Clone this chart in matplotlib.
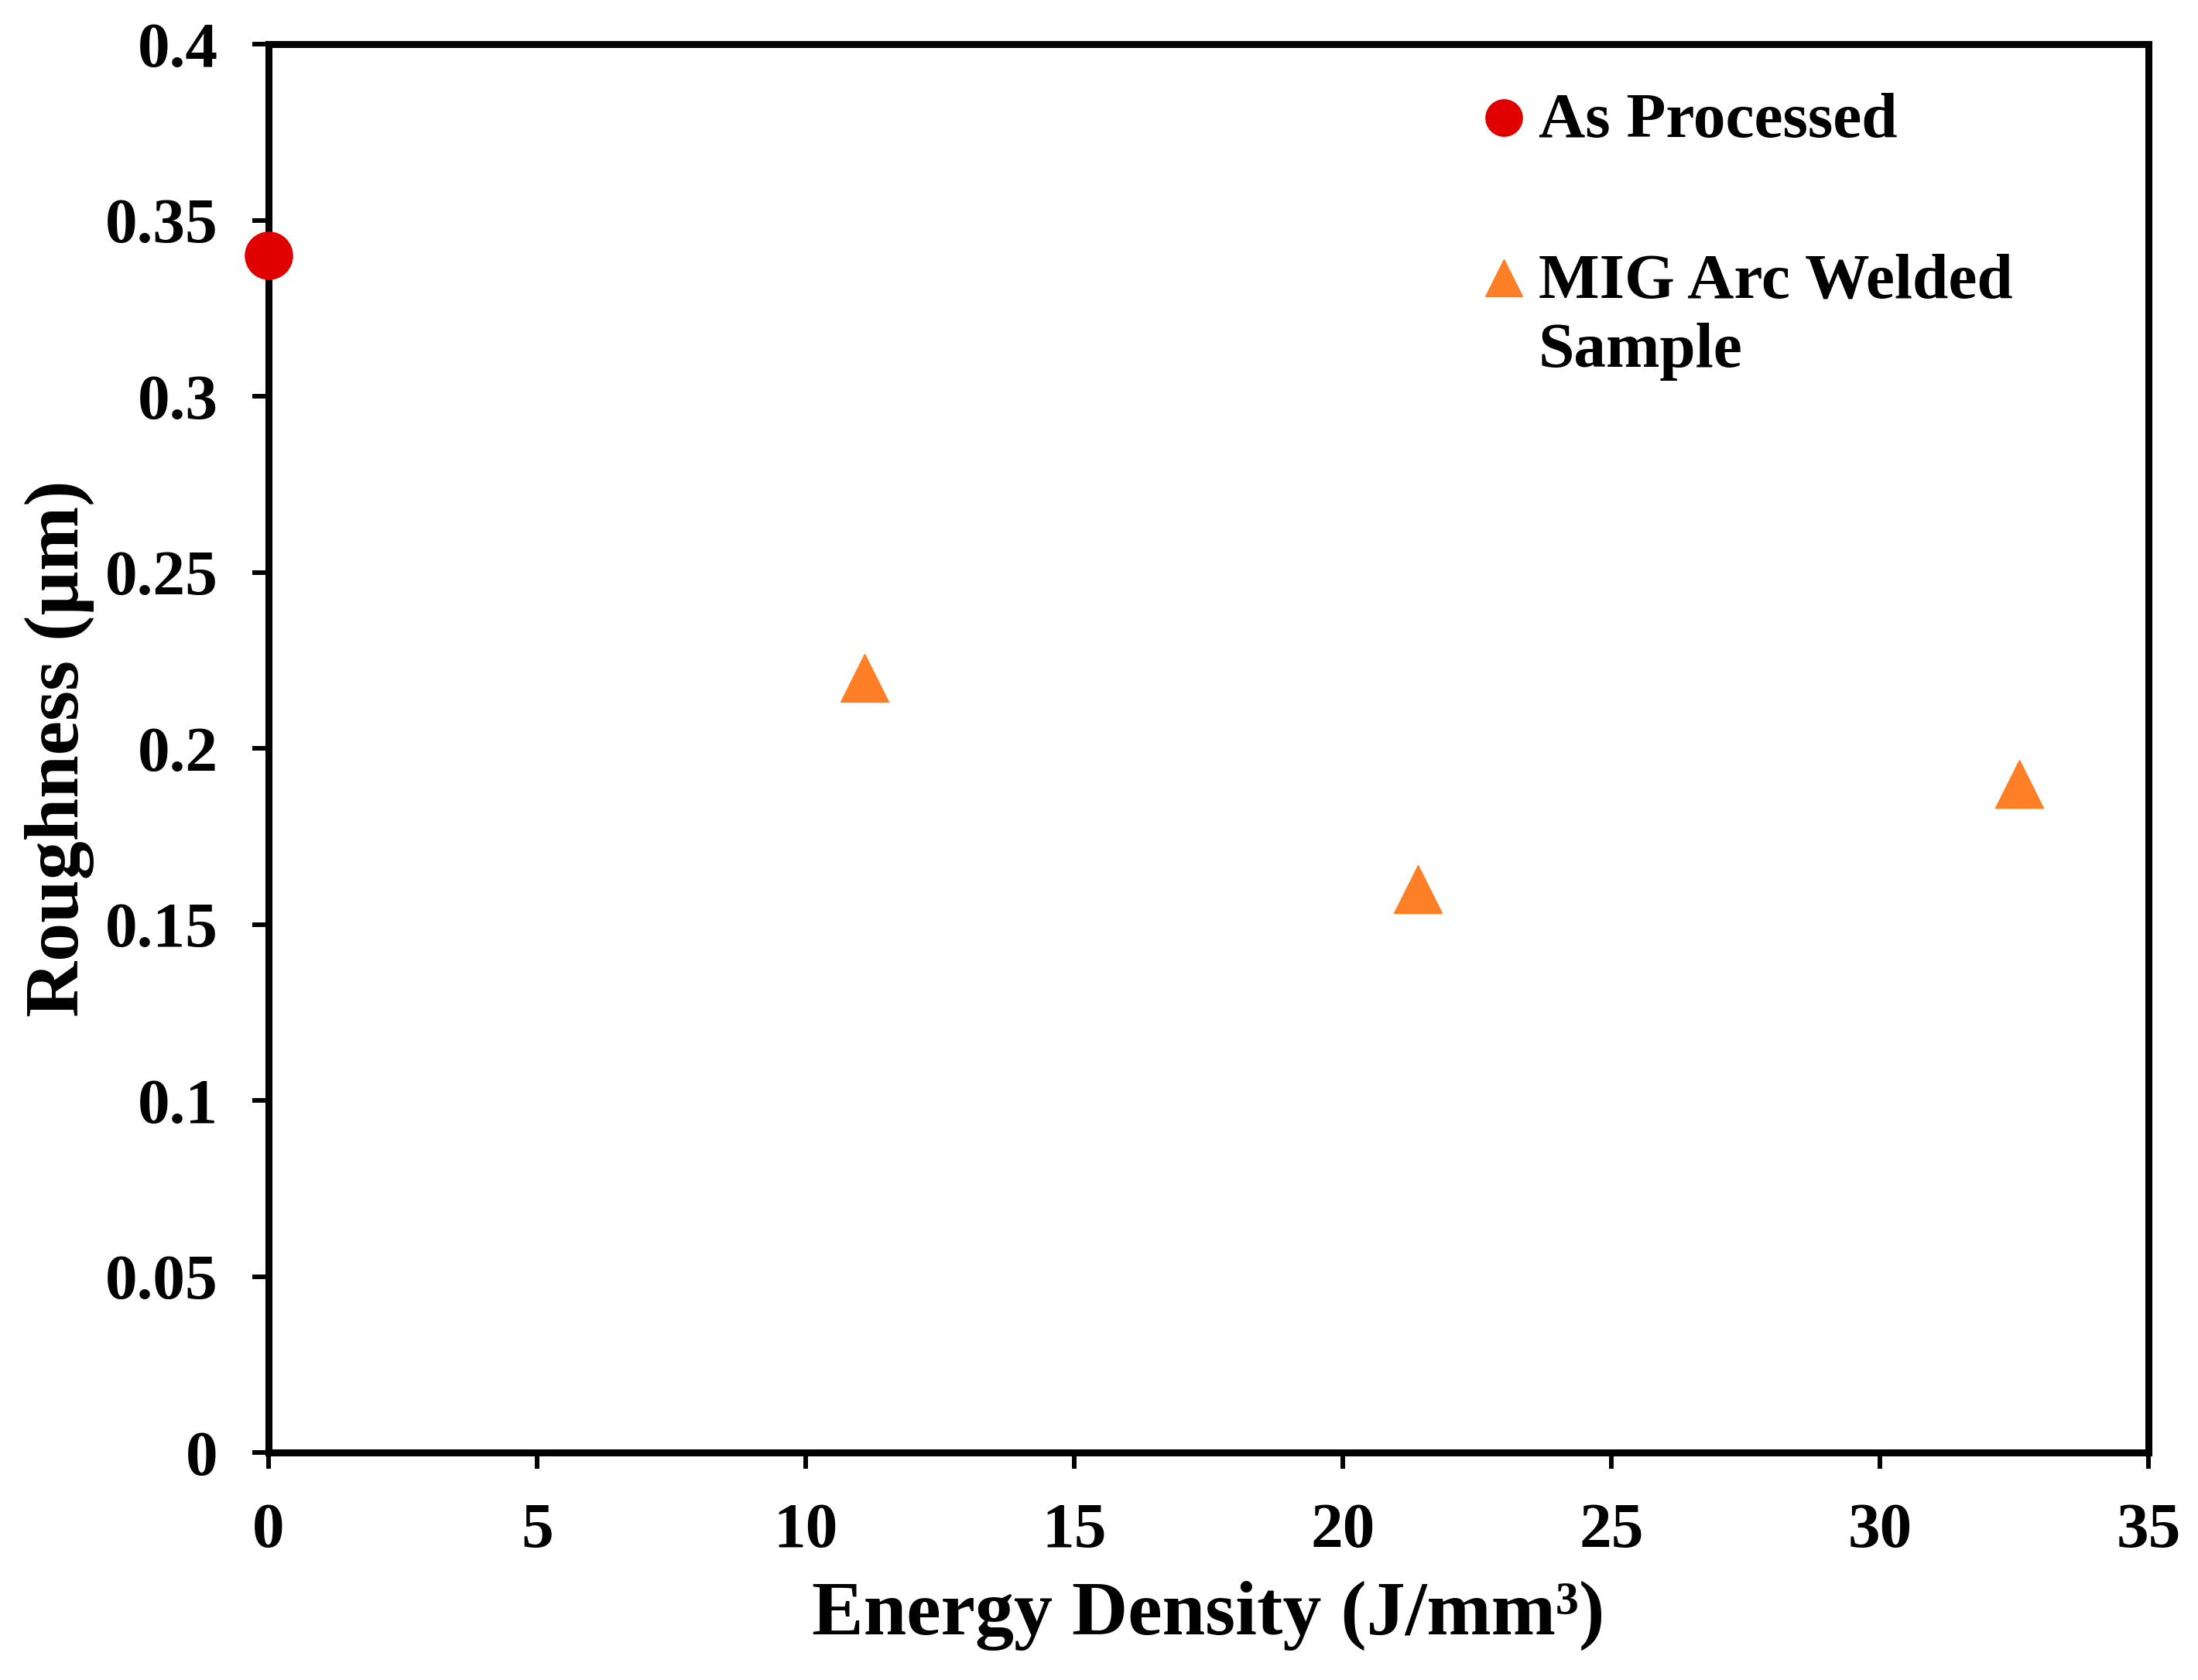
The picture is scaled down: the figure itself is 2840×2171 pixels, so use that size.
import matplotlib
matplotlib.use('Agg')
import matplotlib.pyplot as plt

# data
as_processed_x = [0.0]
as_processed_y = [0.34]
mig_x = [11.1, 21.4, 32.6]
mig_y = [0.22, 0.16, 0.19]

x_ticks = [0, 5, 10, 15, 20, 25, 30, 35]
y_ticks = [0, 0.05, 0.1, 0.15, 0.2, 0.25, 0.3, 0.35, 0.4]
y_tick_labels = ['0', '0.05', '0.1', '0.15', '0.2', '0.25', '0.3', '0.35', '0.4']

red = '#E00000'
orange = '#FF7F27'

plt.rcParams['font.family'] = ['Liberation Serif', 'DejaVu Serif']
plt.rcParams['font.weight'] = 'bold'

fig = plt.figure(figsize=(28.4, 21.71), dpi=100)
ax = fig.add_axes([347 / 2840, 1 - 1877 / 2171, 2429 / 2840, 1820 / 2171])

ax.plot(as_processed_x, as_processed_y, 'o', color=red, markersize=44,
        clip_on=False, zorder=5)
ax.plot(mig_x, mig_y, '^', color=orange, markersize=44, clip_on=False,
        zorder=5)

ax.set_xlim(0, 35)
ax.set_ylim(0, 0.4)
ax.set_xticks(x_ticks)
ax.set_yticks(y_ticks)
ax.set_yticklabels(y_tick_labels)
ax.tick_params(direction='out', length=15, width=4.3, labelsize=60, pad=32)
for sp in ax.spines.values():
    sp.set_linewidth(6.5)

ax.set_xlabel('Energy Density (J/mm³)', fontsize=72, fontweight='bold',
              labelpad=18)
ax.set_ylabel('Roughness (µm)', fontsize=72, fontweight='bold', labelpad=10)

# legend drawn by hand, Excel style
ax.plot([0.657], [0.948], 'o', color=red, markersize=34,
        transform=ax.transAxes, clip_on=False)
ax.plot([0.657], [0.834], '^', color=orange, markersize=34,
        transform=ax.transAxes, clip_on=False)
ax.text(0.6756, 0.934, 'As Processed', transform=ax.transAxes,
        fontsize=60, fontweight='bold', va='baseline')
ax.text(0.6756, 0.820, 'MIG Arc Welded', transform=ax.transAxes,
        fontsize=60, fontweight='bold', va='baseline')
ax.text(0.6756, 0.771, 'Sample', transform=ax.transAxes,
        fontsize=60, fontweight='bold', va='baseline')

fig.savefig('out.png', dpi=100)
